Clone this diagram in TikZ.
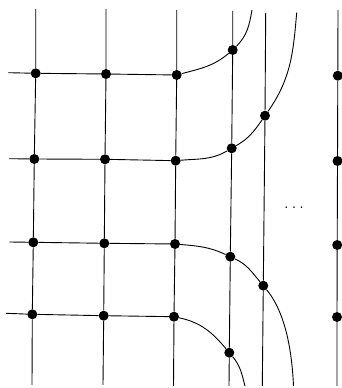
\documentclass[tikz,border=0pt]{standalone}
\begin{document}
\begin{tikzpicture}[x=1pt,y=1pt,
  dot/.style={circle,fill=black,inner sep=0pt,minimum size=10pt},
  wire/.style={line width=0.9pt,black}]
\useasboundingbox (0,0) rectangle (341,388);
% grid dots
\node[dot] (r1c1) at (35.7,314.7) {};
\node[dot] (r1c2) at (106,314) {};
\node[dot] (r1c3) at (176.7,313) {};
\node[dot] (r2c1) at (34.3,229) {};
\node[dot] (r2c2) at (105,228.7) {};
\node[dot] (r2c3) at (175.7,227.3) {};
\node[dot] (r3c1) at (33.3,145.7) {};
\node[dot] (r3c2) at (104.3,144.7) {};
\node[dot] (r3c3) at (175,144) {};
\node[dot] (r4c1) at (32.3,73.7) {};
\node[dot] (r4c2) at (103.7,72.3) {};
\node[dot] (r4c3) at (174,71.3) {};
% right column dots
\node[dot] (r1c6) at (337.8,312.3) {};
\node[dot] (r2c6) at (337.5,227) {};
\node[dot] (r3c6) at (337.2,143) {};
\node[dot] (r4c6) at (337,71) {};
% curve dots
\node[dot] (a4) at (232.7,338) {};
\node[dot] (b4) at (231.7,239.7) {};
\node[dot] (b5) at (265,272.3) {};
\node[dot] (c4) at (230.3,131.3) {};
\node[dot] (c5) at (263.3,102.3) {};
\node[dot] (d4) at (229.3,35.3) {};
% line ends
\coordinate (t1) at (35.7,379);
\coordinate (u1) at (32,3);
\coordinate (t2) at (106,379);
\coordinate (u2) at (103,3);
\coordinate (t3) at (176.7,378);
\coordinate (u3) at (173.5,2);
\coordinate (t4) at (232.7,377);
\coordinate (u4) at (229,2);
\coordinate (t5) at (265.7,375);
\coordinate (u5) at (262.3,2);
\coordinate (t6) at (338,378);
\coordinate (u6) at (337,2);
\coordinate (h1) at (8.3,315.3);
\coordinate (h2) at (9.3,229.3);
\coordinate (h3) at (9.3,146);
\coordinate (h4) at (6,74.7);
\coordinate (e1) at (252,378);
\coordinate (e2) at (296.7,375.3);
\coordinate (e3) at (293.5,2);
\coordinate (e4) at (245,2);
% vertical lines
\draw[wire] (t1) -- (r1c1) -- (r2c1) -- (r3c1) -- (r4c1) -- (u1);
\draw[wire] (t2) -- (r1c2) -- (r2c2) -- (r3c2) -- (r4c2) -- (u2);
\draw[wire] (t3) -- (r1c3) -- (r2c3) -- (r3c3) -- (r4c3) -- (u3);
\draw[wire] (t4) -- (a4) -- (b4) -- (c4) -- (d4) -- (u4);
\draw[wire] (t5) -- (b5) -- (c5) -- (u5);
\draw[wire] (t6) -- (r1c6) -- (r2c6) -- (r3c6) -- (r4c6) -- (u6);
% horizontal lines
\draw[wire] (h1) -- (r1c1) -- (r1c2) -- (r1c3);
\draw[wire] (h2) -- (r2c1) -- (r2c2) -- (r2c3);
\draw[wire] (h3) -- (r3c1) -- (r3c2) -- (r3c3);
\draw[wire] (h4) -- (r4c1) -- (r4c2) -- (r4c3);
% curves
\draw[wire] (r1c3) to[out=15,in=220] (a4) to[out=45,in=-100] (e1);
\draw[wire] (r2c3) to[out=5,in=210] (b4) to[out=30,in=235] (b5) to[out=55,in=-95] (e2);
\draw[wire] (r3c3) to[out=-5,in=155] (c4) to[out=-25,in=130] (c5)
  .. controls +(19,-23) and +(-2,45) .. (e3);
\draw[wire] (r4c3) to[out=-12,in=130] (d4) to[out=-50,in=105] (e4);
% ellipsis
\node[inner sep=0pt,anchor=base] (dots) at (294,179.5)
  {\fontsize{20}{24}\selectfont.\kern2.6pt.\kern2.6pt.};
\end{tikzpicture}
\end{document}
